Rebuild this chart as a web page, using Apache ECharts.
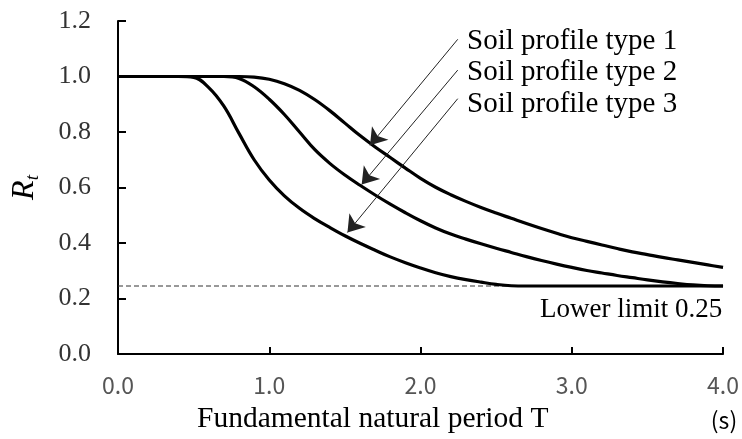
<!DOCTYPE html>
<html>
<head>
<meta charset="utf-8">
<script src="https://cdn.jsdelivr.net/npm/echarts/dist/echarts.min.js"></script>
<style>
  html, body { margin: 0; padding: 0; background: #fff; }
  #main { width: 742px; height: 439px; }
</style>
</head>
<body>
<div id="main"></div>
<script>
// values, T in seconds
var periodT = [0.0, 0.1, 0.2, 0.3, 0.4, 0.5, 0.6, 0.7, 0.8, 0.9,
  1.0, 1.1, 1.2, 1.3, 1.4, 1.5, 1.6, 1.7, 1.8, 1.9,
  2.0, 2.1, 2.2, 2.3, 2.4, 2.5, 2.6, 2.7, 2.8, 2.9,
  3.0, 3.1, 3.2, 3.3, 3.4, 3.5, 3.6, 3.7, 3.8, 3.9, 4.0];

var soilType1 = [1, 1, 1, 1, 1, 1, 1, 1, 1, 0.998,
  0.99, 0.974, 0.95, 0.917, 0.877, 0.832, 0.787, 0.746, 0.708, 0.67,
  0.633, 0.601, 0.574, 0.55, 0.528, 0.508, 0.489, 0.47, 0.452, 0.435,
  0.419, 0.406, 0.393, 0.38, 0.368, 0.358, 0.348, 0.339, 0.33, 0.321, 0.312];

var soilType2 = [1, 1, 1, 1, 1, 1, 1, 1, 0.993, 0.963,
  0.918, 0.863, 0.8, 0.737, 0.687, 0.645, 0.608, 0.573, 0.54, 0.509,
  0.48, 0.454, 0.432, 0.414, 0.397, 0.381, 0.366, 0.351, 0.337, 0.324,
  0.312, 0.301, 0.292, 0.283, 0.275, 0.267, 0.26, 0.254, 0.249, 0.246, 0.245];

var soilType3 = [1, 1, 1, 1, 1, 0.997, 0.96, 0.893, 0.795, 0.7,
  0.627, 0.57, 0.525, 0.488, 0.456, 0.426, 0.399, 0.374, 0.35, 0.329,
  0.31, 0.293, 0.279, 0.268, 0.259, 0.251, 0.246, 0.245, 0.245, 0.245,
  0.245, 0.245, 0.245, 0.245, 0.245, 0.245, 0.245, 0.245, 0.245, 0.245, 0.245];

var lowerLimit = [[0, 0.245], [4.06, 0.245]];

var xTicks = ['0.0', '1.0', '2.0', '3.0', '4.0'];
var seriesNames = ['Soil profile type 1', 'Soil profile type 2', 'Soil profile type 3'];

// arrow start / end, in data units (T, Rt)
var arrowFrom = [[2.246, 1.134], [2.246, 1.023], [2.246, 0.92]];
var arrowTo = [[1.666, 0.752], [1.611, 0.611], [1.517, 0.438]];

function pairs(ys) {
  return periodT.map(function (t, i) { return [t, ys[i]]; });
}

var serif = 'Liberation Serif';
var myChart = echarts.init(document.getElementById('main'));

var curveStyle = { color: '#000', width: 3.2 };

var option = {
  backgroundColor: '#fff',
  animation: false,
  grid: { left: 118, right: 15, top: 21, bottom: 85 },
  xAxis: {
    type: 'value',
    min: 0,
    max: 4,
    interval: 1,
    axisLine: { lineStyle: { color: '#000', width: 2 } },
    axisTick: { inside: true, length: 7, lineStyle: { color: '#000', width: 2 } },
    axisLabel: {
      margin: 20,
      color: '#555',
      fontFamily: 'Noto Sans CJK JP',
      fontSize: 23,
      formatter: function (v) { return xTicks[Math.round(v)]; }
    },
    splitLine: { show: false }
  },
  yAxis: {
    type: 'value',
    min: 0,
    max: 1.2,
    interval: 0.2,
    name: '{r|R}{s|t}',
    nameLocation: 'middle',
    nameRotate: 90,
    nameGap: 76,
    nameTextStyle: {
      rich: {
        r: { fontFamily: serif, fontStyle: 'italic', fontSize: 32, color: '#000', lineHeight: 34 },
        s: { fontFamily: serif, fontStyle: 'italic', fontSize: 19, color: '#000', verticalAlign: 'bottom', lineHeight: 28 }
      }
    },
    axisLine: { show: true, lineStyle: { color: '#000', width: 2 } },
    axisTick: { show: true, inside: true, length: 8, lineStyle: { color: '#000', width: 2 } },
    axisLabel: {
      margin: 27,
      color: '#333',
      fontFamily: serif,
      fontSize: 26,
      formatter: function (v) { return v.toFixed(1); }
    },
    splitLine: { show: false }
  },
  graphic: [
    { type: 'text', x: 467, y: 41, style: { text: seriesNames[0], font: '29px "Liberation Serif"', fill: '#000', textVerticalAlign: 'middle' } },
    { type: 'text', x: 467, y: 72, style: { text: seriesNames[1], font: '29px "Liberation Serif"', fill: '#000', textVerticalAlign: 'middle' } },
    { type: 'text', x: 467, y: 104, style: { text: seriesNames[2], font: '29px "Liberation Serif"', fill: '#000', textVerticalAlign: 'middle' } },
    { type: 'text', x: 540, y: 310, style: { text: 'Lower limit 0.25', font: '27px "Liberation Serif"', fill: '#000', textVerticalAlign: 'middle' } },
    { type: 'text', x: 197, y: 419, style: { text: 'Fundamental natural period T', font: '29.5px "Liberation Serif"', fill: '#000', textVerticalAlign: 'middle' } },
    { type: 'text', x: 724, y: 420, style: { text: '(s)', font: '23px "Noto Sans CJK JP"', fill: '#000', textAlign: 'center', textVerticalAlign: 'middle' } }
  ],
  series: [
    {
      name: 'lower limit',
      type: 'line',
      data: lowerLimit,
      clip: false,
      symbol: 'none',
      z: 1,
      lineStyle: { color: '#333', width: 1, type: [5, 3] },
      markLine: {
        silent: true,
        symbol: ['none', 'arrow'],
        symbolSize: 16,
        label: { show: false },
        lineStyle: { color: '#222', width: 1, type: 'solid' },
        data: arrowFrom.map(function (p, i) {
          return [{ coord: p }, { coord: arrowTo[i] }];
        })
      }
    },
    { name: seriesNames[0], type: 'line', data: pairs(soilType1), symbol: 'none', smooth: 0.4, lineStyle: curveStyle, z: 3 },
    { name: seriesNames[1], type: 'line', data: pairs(soilType2), symbol: 'none', smooth: 0.4, lineStyle: curveStyle, z: 3 },
    { name: seriesNames[2], type: 'line', data: pairs(soilType3), symbol: 'none', smooth: 0.4, lineStyle: curveStyle, z: 3 }
  ]
};

myChart.setOption(option);
</script>
</body>
</html>
